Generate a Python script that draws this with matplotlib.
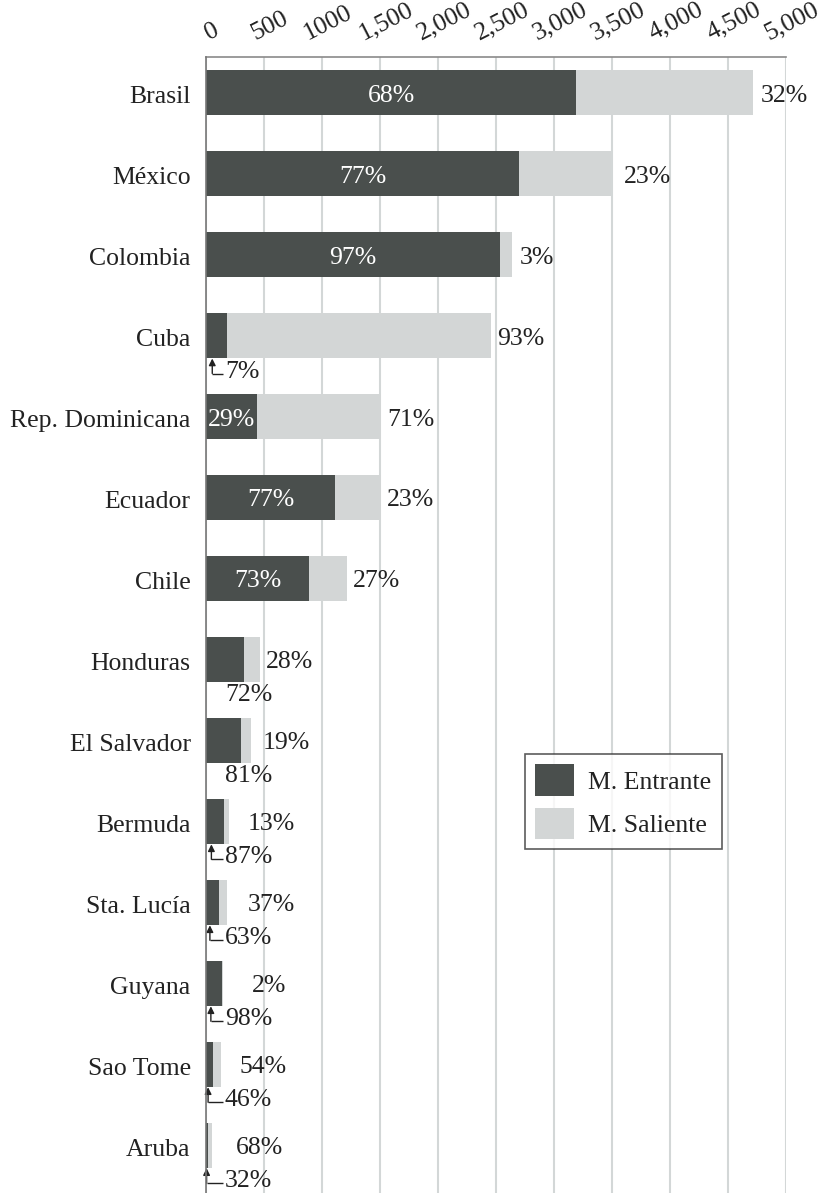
import numpy as np
import matplotlib.pyplot as plt
from matplotlib.patches import Patch
from matplotlib.transforms import ScaledTranslation

plt.rcParams['font.family'] = ['Liberation Serif', 'DejaVu Serif']

# datos
paises = ["Brasil", "México", "Colombia", "Cuba", "Rep. Dominicana", "Ecuador", "Chile",
          "Honduras", "El Salvador", "Bermuda", "Sta. Lucía", "Guyana", "Sao Tome", "Aruba"]
entrante = [3190, 2700, 2535, 180, 440, 1110, 890, 330, 300, 155, 112, 140, 60, 17]
saliente = [1525, 790, 105, 2275, 1070, 400, 325, 135, 88, 43, 69, 4, 69, 35]
pct_in = [68, 77, 97, 7, 29, 77, 73, 72, 81, 87, 63, 98, 46, 32]
pct_out = [32, 23, 3, 93, 71, 23, 27, 28, 19, 13, 37, 2, 54, 68]
xticks = [0, 500, 1000, 1500, 2000, 2500, 3000, 3500, 4000, 4500, 5000]
xtick_labels = ["0", "500", "1000", "1,500", "2,000", "2,500", "3,000", "3,500",
                "4,000", "4,500", "5,000"]

# estilo / posiciones de etiquetas (pixeles)
gap_out_px = [8, 13, 8, 6, 6, 6, 6, 6, 12, 19, 21, 29, 19, 24]
c_in = "#4a4f4d"
c_out = "#d3d6d6"
c_txt = "#222222"
fs = 18.5

W, H = 829, 1193
fig = plt.figure(figsize=(W / 100, H / 100), dpi=100)
ax = fig.add_axes([206 / W, 0, 580 / W, 1136 / H])

XPP = 5000 / 580   # unidades de x por pixel
YPP = 1 / 81       # unidades de y por pixel
dy = 3 * YPP       # bajar un poco el texto

y = np.arange(len(paises))
ax.barh(y, entrante, height=0.556, color=c_in, zorder=2)
ax.barh(y, saliente, left=entrante, height=0.556, color=c_out, zorder=2)

ax.set_xlim(0, 5000)
ax.set_ylim(len(paises) - 1 + 0.59, -0.44)

ax.xaxis.tick_top()
ax.set_xticks(xticks)
ax.set_xticklabels(xtick_labels)
ax.tick_params(axis='x', length=0, pad=9, labelsize=18.5, labelrotation=27, labelcolor=c_txt)
for lbl in ax.get_xticklabels():
    lbl.set_transform(lbl.get_transform() + ScaledTranslation(0.06, 0, fig.dpi_scale_trans))
ax.set_yticks(y)
ax.set_yticklabels(paises)
ax.tick_params(axis='y', length=0, pad=11, labelsize=fs, labelcolor=c_txt)
for lbl in ax.get_yticklabels():
    lbl.set_transform(lbl.get_transform() + ScaledTranslation(0, -0.02, fig.dpi_scale_trans))

ax.grid(axis='x', color='#d3d7d7', lw=1.5, zorder=0)
ax.set_axisbelow(True)
for s in ["right", "bottom"]:
    ax.spines[s].set_visible(False)
ax.spines["top"].set_color("#8a8a8a")
ax.spines["top"].set_linewidth(1.2)
ax.spines["left"].set_color("#777777")
ax.spines["left"].set_linewidth(1.2)
ax.spines["left"].set_zorder(3)

for i in range(len(paises)):
    total = entrante[i] + saliente[i]
    # etiqueta M. Saliente a la derecha
    ax.text(total + gap_out_px[i] * XPP, i + dy, f"{pct_out[i]}%", ha='left', va='center',
            fontsize=fs, color=c_txt)
    # etiqueta M. Entrante
    if entrante[i] >= 400:
        ax.text(entrante[i] / 2, i + dy, f"{pct_in[i]}%", ha='center', va='center',
                fontsize=fs, color='white', zorder=4)
    else:
        yl = i + 33 * YPP
        ax.text(19 * XPP, yl + dy, f"{pct_in[i]}%", ha='left', va='center', fontsize=fs, color=c_txt)
        if entrante[i] < 250:
            xa = max(entrante[i] * 0.3, 0.5 * XPP)
            yb = yl + 5 * YPP
            ax.plot([xa, 17 * XPP], [yb, yb], color=c_txt, lw=1.0, solid_capstyle='butt')
            ax.annotate("", xy=(xa, yl - 10 * YPP), xytext=(xa, yb),
                        arrowprops=dict(arrowstyle='-|>,head_length=0.4,head_width=0.2',
                                        color=c_txt, lw=1.0, shrinkA=0, shrinkB=0))

handles = [Patch(facecolor=c_in, label="M. Entrante"), Patch(facecolor=c_out, label="M. Saliente")]
leg = fig.legend(handles=handles, loc='upper left', bbox_to_anchor=(525 / W, 1 - 754 / H),
                 fontsize=fs, frameon=True, fancybox=False, borderaxespad=0, borderpad=0.4,
                 handlelength=1.52, handleheight=1.52, handletextpad=0.55, labelspacing=0.45)
leg.get_frame().set_edgecolor('#333333')
leg.get_frame().set_linewidth(1.2)
for t in leg.get_texts():
    t.set_color(c_txt)

plt.savefig("out.png", dpi=100)
